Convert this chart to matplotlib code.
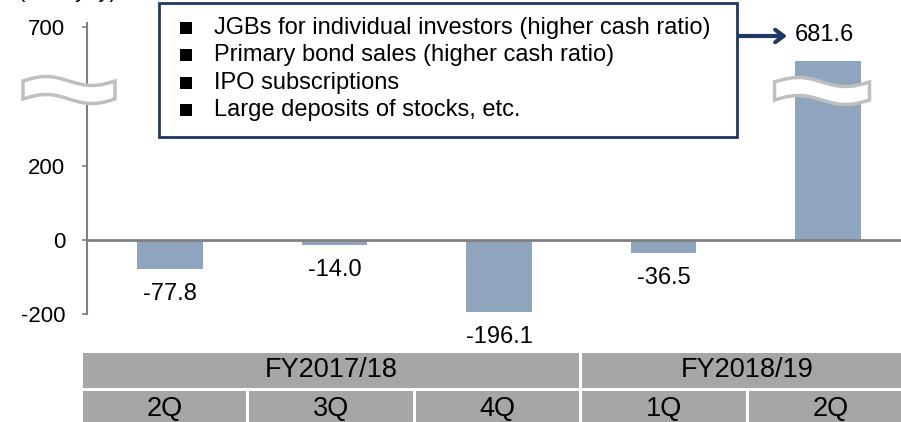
"""Quarterly change bar chart with a broken y axis and a period table underneath."""

import numpy as np
import matplotlib
matplotlib.use("Agg")
import matplotlib.pyplot as plt
from matplotlib.patches import Polygon, Rectangle
from matplotlib.ticker import NullLocator

plt.rcParams["font.family"] = ["Liberation Sans", "DejaVu Sans"]

# --- data ---
quarters = ["2Q", "3Q", "4Q", "1Q", "2Q"]
fiscal_years = ["FY2017/18", "FY2018/19"]
fy_spans = [3, 2]
values = [-77.8, -14.0, -196.1, -36.5, 681.6]
y_ticks = [-200, 0, 200, 700]
legend_items = [
    "JGBs for individual investors (higher cash ratio)",
    "Primary bond sales (higher cash ratio)",
    "IPO subscriptions",
    "Large deposits of stocks, etc.",
]
unit_label = "(¥bn, yoy)"

BAR = "#8FA5BE"
GREY = "#808080"
NAVY = "#1F3864"
CELL = "#A6A6A6"
BREAK_EDGE = "#BFBFBF"
W, H = 901, 422

# broken axis: values above 200 are squeezed, as in the original
BREAK_X = [-1e4, 200, 680, 700, 1e4]
BREAK_Y = [-1e4, 200, 480, 579, 579 + 9300 * 4.95]


def fwd(v):
    return np.interp(v, BREAK_X, BREAK_Y)


def inv(v):
    return np.interp(v, BREAK_Y, BREAK_X)


def fx(x):
    return x / W


def fy(y):
    # image pixel row (top origin) -> figure fraction
    return 1 - y / H


def draw_break(fig, cx, cy, w=92, h=18, amp=4.5):
    t = np.linspace(0, 1, 60)
    xs = cx - w / 2 + w * t
    top = cy - h / 2 - amp * np.sin(2 * np.pi * t)
    bot = cy + h / 2 - amp * np.sin(2 * np.pi * t)
    pts = np.concatenate([np.c_[xs, top], np.c_[xs[::-1], bot[::-1]]])
    pts = np.c_[fx(pts[:, 0]), fy(pts[:, 1])]
    fig.add_artist(Polygon(pts, closed=True, transform=fig.transFigure,
                           fc="white", ec=BREAK_EDGE, lw=2.5, zorder=4))


fig = plt.figure(figsize=(W / 100, H / 100), dpi=100)
ax = fig.add_axes([fx(87), fy(313.5), (W - 87) / W, (313.5 - 23) / H])
ax.set_yscale("function", functions=(fwd, inv))

x = np.arange(len(values))
ax.bar(x, values, width=0.4, color=BAR, zorder=2)
ax.axhline(0, color=GREY, lw=2, zorder=3)
ax.set_xlim(-0.505, 4.444)
ax.set_ylim(-200, 702.3)

for side in ["top", "right", "bottom"]:
    ax.spines[side].set_visible(False)
ax.spines["left"].set_color(GREY)
ax.spines["left"].set_linewidth(1.5)
ax.set_xticks([])
ax.set_yticks(y_ticks)
ax.set_yticklabels([str(t) for t in y_ticks])
ax.yaxis.set_minor_locator(NullLocator())
ax.tick_params(axis="y", length=3.6, width=1.2, color=GREY, pad=12, labelsize=16)

# value labels
for xi, v in zip(x, values):
    if v < 0:
        ax.annotate(f"{v:.1f}", (xi, v), xytext=(0, -25), textcoords="offset pixels",
                    ha="center", va="center", fontsize=17, annotation_clip=False)
    else:
        ax.annotate(f"{v:.1f}", (xi, v), xytext=(-33, 26), textcoords="offset pixels",
                    ha="left", va="center", fontsize=17, annotation_clip=False)

# axis break marks
draw_break(fig, 69, 90)
draw_break(fig, 822, 91, w=95)

# legend-like note box
fig.add_artist(Rectangle((fx(159), fy(137)), (737 - 159) / W, (137 - 3) / H,
                         transform=fig.transFigure, fc="white", ec=NAVY, lw=2, zorder=5))
for i, item in enumerate(legend_items):
    yc = 28 + i * 27.3
    fig.add_artist(Rectangle((fx(180), fy(yc + 6)), 12 / W, 12 / H,
                             transform=fig.transFigure, fc="black", ec="none", zorder=6))
    fig.text(fx(214), fy(yc), item, va="center", ha="left", fontsize=17, zorder=6)

# arrow pointing to the cut bar
ax.annotate("", xy=(787, H - 36), xytext=(737, H - 36),
            xycoords="figure pixels", textcoords="figure pixels",
            arrowprops=dict(arrowstyle="->,head_length=0.6,head_width=0.45",
                            color=NAVY, lw=3, shrinkA=0, shrinkB=0))

# unit label, cut off at the top edge as in the source image
fig.text(fx(18), fy(-3), unit_label, va="baseline", ha="left", fontsize=16)

# period table under the chart
tax = fig.add_axes([fx(81), fy(428), 833 / W, 77 / H])
tax.set_xlim(0, 5)
tax.set_ylim(2, 0)
tax.axis("off")
gx, gy = 1.5 / 166.6, 1.5 / 38.5
start = 0
for label, span in zip(fiscal_years, fy_spans):
    tax.add_patch(Rectangle((start + gx, gy), span - 2 * gx, 1 - 2 * gy, fc=CELL, ec="none"))
    tax.text(start + span / 2, 0.5, label, ha="center", va="center", fontsize=19.5)
    start += span
for i, q in enumerate(quarters):
    tax.add_patch(Rectangle((i + gx, 1 + gy), 1 - 2 * gx, 1 - 2 * gy, fc=CELL, ec="none"))
    tax.text(i + 0.5, 1.5, q, ha="center", va="center", fontsize=19.5)

fig.savefig("out.png", dpi=100)
